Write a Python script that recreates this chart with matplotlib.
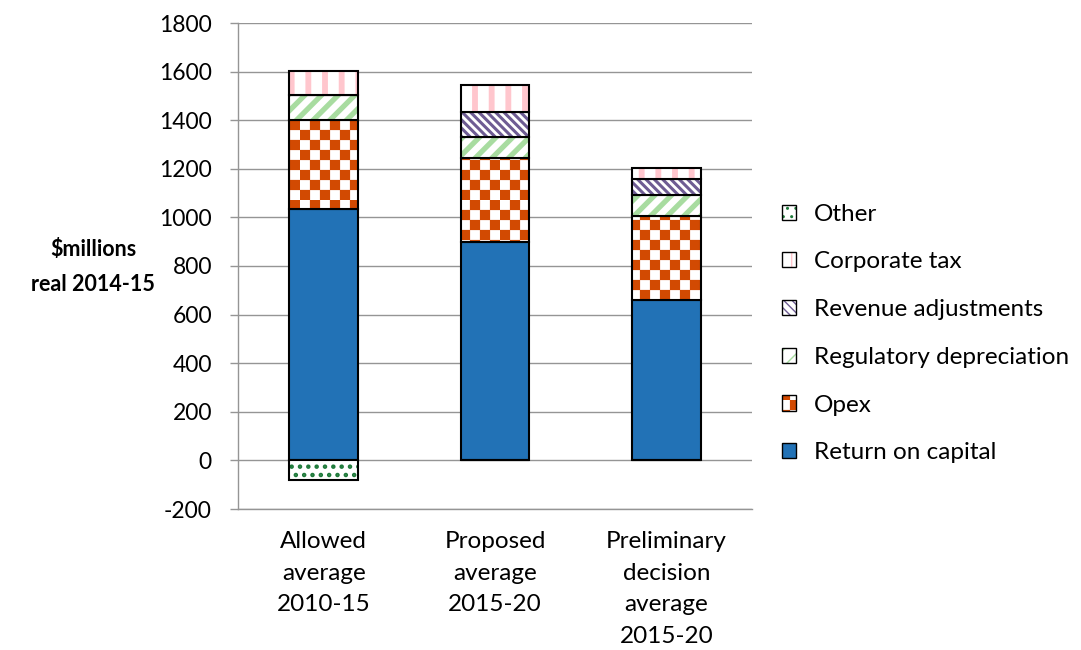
import warnings
import numpy as np
import matplotlib
matplotlib.use("Agg")
import matplotlib.pyplot as plt
from matplotlib import hatch as mhatch
from matplotlib.patches import Rectangle
from matplotlib.path import Path

warnings.filterwarnings("ignore")

categories = ["Allowed\naverage\n2010-15",
              "Proposed\naverage\n2015-20",
              "Preliminary\ndecision\naverage\n2015-20"]
return_on_capital = [1035, 898, 659]
opex = [365, 346, 346]
reg_depreciation = [103, 86, 86]
revenue_adj = [0, 103, 66]
corporate_tax = [99, 112, 46]
other = [-82, 0, 0]


# checkerboard hatch for the opex bars ("c" in the hatch string)
class CheckerHatch(mhatch.HatchPatternBase):
    def __init__(self, hatch, density):
        self.n = 10 if "c" in hatch else 0
        self.num_vertices = 5 * (self.n * self.n // 2)

    def set_vertices_and_codes(self, vertices, codes):
        step = 1.0 / self.n
        inset = step * 0.06
        k = 0
        for i in range(self.n):
            for j in range(self.n):
                if (i + j) % 2:
                    continue
                x0, y0 = i * step + inset, j * step + inset
                x1, y1 = x0 + step - 2 * inset, y0 + step - 2 * inset
                vertices[k:k + 5] = [(x0, y0), (x1, y0), (x1, y1), (x0, y1), (x0, y0)]
                codes[k:k + 5] = [Path.MOVETO, Path.LINETO, Path.LINETO,
                                  Path.LINETO, Path.CLOSEPOLY]
                k += 5


mhatch._hatch_types.append(CheckerHatch)

plt.rcParams["font.family"] = ["Lato", "DejaVu Sans"]
plt.rcParams["hatch.linewidth"] = 1.0
plt.rcParams["axes.unicode_minus"] = False

FS = 17.5
GRAY = "#959595"

# name, values, colour, hatch, hatch linewidth
series = [
    ("Return on capital", return_on_capital, "#2272B6", None, 1.0),
    ("Opex", opex, "#D24A02", "c", 1.0),
    ("Regulatory depreciation", reg_depreciation, "#A8DCA0", "//", 3.8),
    ("Revenue adjustments", revenue_adj, "#6E5C93", "\\\\\\\\", 2.2),
    ("Corporate tax", corporate_tax, "#FFC6CD", "|", 4.2),
]
other_style = ("Other", other, "#1E7A3A", "..", 2.0)


def set_hlw(patch, lw):
    if hasattr(patch, "set_hatch_linewidth"):
        patch.set_hatch_linewidth(lw)


fig = plt.figure(figsize=(10.81, 6.5), dpi=100)
ax = fig.add_axes([238 / 1081, (650 - 509) / 650, (752 - 238) / 1081, (509 - 23) / 650])

x = np.arange(len(categories))
width = 0.4
bottom = np.zeros(len(categories))
handles = {}

for name, vals, col, hatch, hlw in series:
    vals = np.array(vals, dtype=float)
    if hatch is None:
        ax.bar(x, vals, width, bottom=bottom, color=col, edgecolor="black", linewidth=1.5)
        handles[name] = Rectangle((0, 0), 1, 1, facecolor=col, edgecolor="black", linewidth=1.0)
    else:
        bars = ax.bar(x, vals, width, bottom=bottom, color="white", edgecolor=col,
                      linewidth=0, hatch=hatch)
        for b in bars:
            set_hlw(b, hlw)
        ax.bar(x, vals, width, bottom=bottom, fill=False, edgecolor="black", linewidth=1.5)
        h1 = Rectangle((0, 0), 1, 1, facecolor="white", edgecolor=col, linewidth=0, hatch=hatch)
        set_hlw(h1, hlw)
        h2 = Rectangle((0, 0), 1, 1, fill=False, edgecolor="black", linewidth=1.0)
        handles[name] = (h1, h2)
    bottom += vals

# negative "Other" segment hangs below zero
name, vals, col, hatch, hlw = other_style
bars = ax.bar(x, vals, width, color="white", edgecolor=col, linewidth=0, hatch=hatch)
for b in bars:
    set_hlw(b, hlw)
ax.bar(x, vals, width, fill=False, edgecolor="black", linewidth=1.5)
h1 = Rectangle((0, 0), 1, 1, facecolor="white", edgecolor=col, linewidth=0, hatch=hatch)
set_hlw(h1, hlw)
handles[name] = (h1, Rectangle((0, 0), 1, 1, fill=False, edgecolor="black", linewidth=1.0))

# axes styling, Excel-like
ax.set_xlim(-0.5, 2.5)
ax.set_ylim(-200, 1800)
ax.set_yticks(np.arange(-200, 1801, 200))
ax.set_xticks(x)
ax.set_xticklabels(categories, fontsize=FS, linespacing=1.62)
ax.tick_params(axis="x", length=0, pad=16)
ax.tick_params(axis="y", direction="out", length=5.8, width=1, color=GRAY,
               labelsize=16.5, pad=13)
ax.set_axisbelow(True)
ax.grid(axis="y", color=GRAY, linewidth=1)
for s in ("top", "right"):
    ax.spines[s].set_visible(False)
for s in ("left", "bottom"):
    ax.spines[s].set_color(GRAY)
    ax.spines[s].set_linewidth(1)

fig.text(93 / 1081, 1 - 267 / 650, "\\$millions\nreal 2014-15", ha="center", va="center",
         fontsize=15.5, fontweight="bold", linespacing=1.85)

order = ["Other", "Corporate tax", "Revenue adjustments", "Regulatory depreciation",
         "Opex", "Return on capital"]
fig.legend([handles[n] for n in order], order, loc="center left",
           bbox_to_anchor=(782 / 1081, 1 - 333.5 / 650), bbox_transform=fig.transFigure,
           frameon=False, fontsize=FS, borderpad=0, borderaxespad=0,
           handlelength=0.58, handleheight=0.58, handletextpad=0.75, labelspacing=1.1)

fig.savefig("out.png", dpi=100)
